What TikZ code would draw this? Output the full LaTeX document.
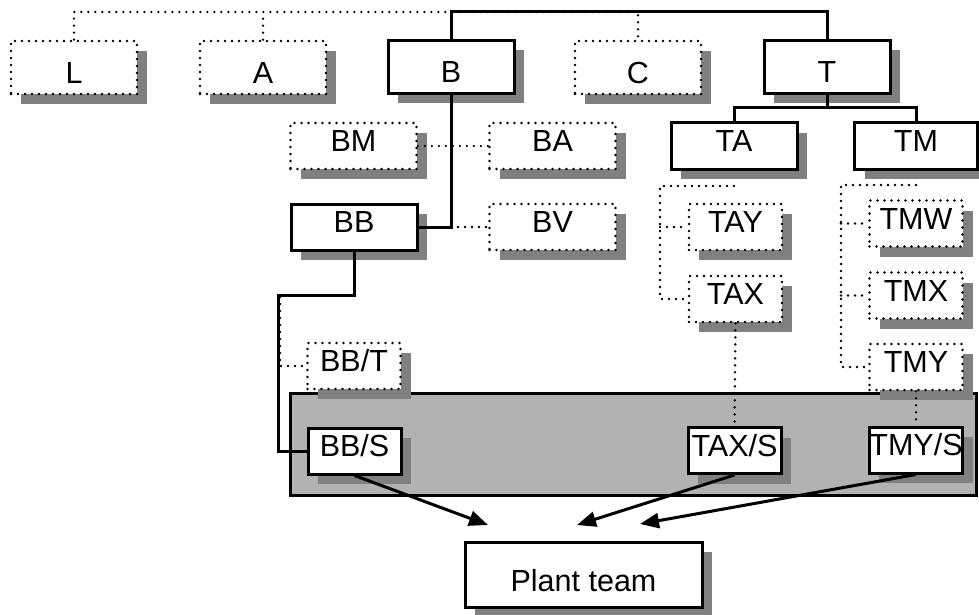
\documentclass[tikz,border=0pt]{standalone}
\usepackage{fontspec}
\setmainfont{Liberation Sans}
\usetikzlibrary{shadows,arrows.meta,calc}
\definecolor{shadowgray}{HTML}{808080}
\definecolor{panelgray}{HTML}{B2B2B2}
\begin{document}
\begin{tikzpicture}[x=1pt,y=-1pt,
  lbl/.style={font=\fontsize{30.5}{36}\selectfont, inner sep=0pt, align=center},
  shadowed/.style={drop shadow={shadow xshift=10pt, shadow yshift=-10pt, fill=shadowgray, opacity=1}},
  solidbox/.style={lbl, draw, line width=3pt, fill=white, shadowed},
  dotbox/.style={lbl, draw, line width=2.7pt, dash pattern=on 0pt off 7pt, line cap=round, fill=white, shadowed},
  toprow/.style={minimum width=126pt, minimum height=53pt, text height=31.5pt, text depth=0pt},
  midbox/.style={minimum width=126pt, minimum height=46pt, text height=21.5pt, text depth=10pt},
  smallbox/.style={minimum width=93pt, minimum height=46pt, text height=21.5pt, text depth=10pt},
  solidline/.style={line width=3pt},
  dotline/.style={line width=2.7pt, dash pattern=on 0pt off 7pt, line cap=round},
  arrowline/.style={line width=3pt, -{Triangle[length=19pt,width=15pt]}}
]
\useasboundingbox (0,0) rectangle (979,615);

% panel
\node[draw, line width=3pt, fill=panelgray, minimum width=686pt, minimum height=102pt, inner sep=0pt] (panel) at (633,444) {};

% top row
\node[dotbox,toprow] (L) at (74,67.5) {L};
\node[dotbox,toprow] (A) at (263,67.5) {A};
\node[solidbox,toprow] (B) at (451,67) {B};
\node[dotbox,toprow] (C) at (638,67.5) {C};
\node[solidbox,toprow] (T) at (827,67) {T};

% second row
\node[dotbox,midbox] (BM) at (353.5,146) {BM};
\node[dotbox,midbox] (BA) at (552.5,146) {BA};
\node[solidbox,midbox] (TA) at (734,146) {TA};
\node[solidbox,midbox,minimum width=123pt] (TM) at (916,146) {TM};

% third row
\node[solidbox,midbox] (BB) at (354,227) {BB};
\node[dotbox,midbox] (BV) at (552.5,227) {BV};
\node[dotbox,smallbox] (TAY) at (735.5,227) {TAY};
\node[dotbox,smallbox] (TAX) at (735.5,299) {TAX};
\node[dotbox,smallbox] (TMW) at (916,223.5) {TMW};
\node[dotbox,smallbox] (TMX) at (916,295.5) {TMX};
\node[dotbox,smallbox] (TMY) at (916,367) {TMY};
\node[dotbox,smallbox] (BBT) at (354,366) {BB/T};

% panel boxes
\node[solidbox,smallbox] (BBS) at (354.5,451) {BB/S};
\node[solidbox,smallbox] (TAXS) at (734.5,450.5) {TAX/S};
\node[solidbox,smallbox] (TMYS) at (916,450) {TMY/S};

% plant team
\node[solidbox,minimum width=237pt,minimum height=65pt,text height=34.5pt,text depth=0pt] (PT) at (583.5,574.5) {Plant team};

% helper coordinates
\coordinate (topline) at (0,12);
\coordinate (tj) at (0,108);
\coordinate (taj) at (660,186);
\coordinate (tmj) at (841,185);
\coordinate (bbj) at (278,295);
\coordinate (p1) at (488,525);
\coordinate (p2) at (577,525);
\coordinate (p3) at (640,524);

% connectors
\draw[dotline] (L.north) |- (C.north |- topline) -- (C.north);
\draw[dotline] (A.north) -- (A.north |- topline);
\draw[solidline] (B.north) |- (T.north |- topline) -- (T.north);
\draw[solidline] (T.south) -- (T.south |- tj);
\draw[solidline] (TA.north) |- (TM.north |- tj) -- (TM.north);
\draw[dotline] (BM.east) -- (BA.west);
\draw[solidline] (B.south) |- (BB.east);
\draw[dotline] (B.south |- BV.west) -- (BV.west);
\draw[solidline] (BB.south) |- (bbj) |- (BBS.west);
\draw[dotline] ([xshift=2pt,yshift=-2pt]bbj) |- (BBT.west);
\draw[dotline] (TA.south |- taj) -- (taj) |- (TAX.west);
\draw[dotline] (taj |- TAY.west) -- (TAY.west);
\draw[dotline] (TM.south |- tmj) -- (tmj) |- (TMY.west);
\draw[dotline] (tmj |- TMW.west) -- (TMW.west);
\draw[dotline] (tmj |- TMX.west) -- (TMX.west);
\draw[dotline] (TAX.south) -- (TAXS.north);
\draw[dotline] (TMY.south) -- (TMYS.north);
\draw[arrowline] (BBS.south) -- (p1);
\draw[arrowline] (TAXS.south) -- (p2);
\draw[arrowline] (TMYS.south) -- (p3);
\end{tikzpicture}
\end{document}
